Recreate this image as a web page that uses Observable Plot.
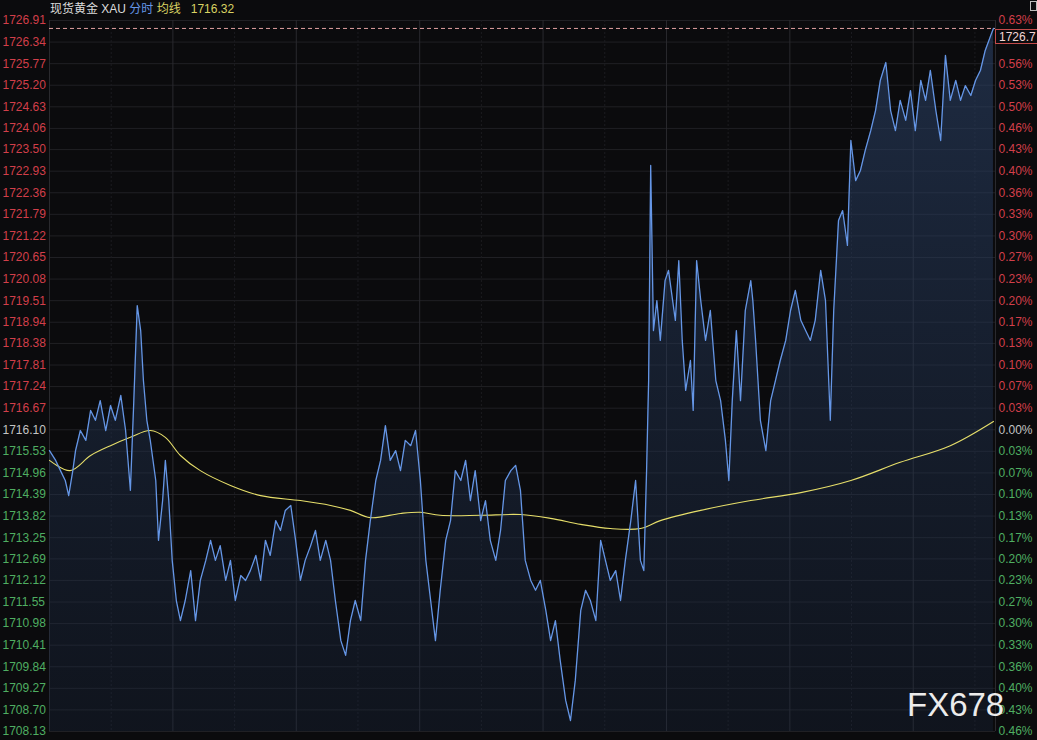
<!DOCTYPE html>
<html><head><meta charset="utf-8">
<script src="https://cdn.jsdelivr.net/npm/d3@7"></script>
<script src="https://cdn.jsdelivr.net/npm/@observablehq/plot@0.6"></script>
<style>
html,body{margin:0;padding:0;background:#0b0b0d;}
#wrap{position:relative;width:1037px;height:740px;overflow:hidden;font-family:"Liberation Sans",Arial,"Noto Sans CJK SC",sans-serif;}
#hdr{position:absolute;left:50px;top:2px;font-size:12px;line-height:14px;white-space:nowrap;}
#box{position:absolute;left:995px;width:44px;height:15px;border:1px solid #c24a4a;background:#0b0b0d;color:#f2d6d6;font-size:12px;line-height:15px;padding-left:3px;box-sizing:border-box;}
#icon{position:absolute;left:1030px;top:1px;width:7px;height:10px;border:1px solid #bbb;box-sizing:border-box;}
#wm{position:absolute;left:907px;top:686px;font-size:33px;color:#ececec;font-family:"Liberation Sans",Arial,sans-serif;}
</style></head>
<body><div id="wrap"></div>
<script>
// ---- data ----
const minutes = [0,9,16,23,28,34,38,45,53,60,67,74,82,89,96,104,111,118,123,128,133,137,142,147,155,159,165,169,174,179,185,191,198,206,213,220,228,235,242,249,257,264,271,279,286,293,301,308,315,322,330,337,344,352,359,366,373,381,388,395,403,410,417,425,432,439,446,454,461,468,476,483,490,497,505,512,519,527,534,541,549,556,563,570,578,585,592,600,607,614,621,629,636,643,651,658,665,673,680,687,694,702,709,716,724,731,738,745,753,760,767,775,782,789,797,804,811,818,826,833,840,848,855,862,867,871,874,877,881,886,891,898,903,909,913,918,923,928,935,939,944,950,957,964,972,979,986,991,996,1002,1008,1015,1023,1026,1030,1037,1045,1052,1059,1066,1074,1081,1088,1096,1103,1110,1117,1125,1132,1139,1144,1151,1157,1164,1169,1176,1183,1190,1198,1205,1212,1220,1227,1234,1241,1249,1256,1263,1271,1278,1285,1293,1300,1307,1314,1322,1329,1336,1344,1351,1358,1365,1373,1377];
const prices = [1715.55,1715.29,1715.02,1714.76,1714.36,1715.02,1715.55,1716.08,1715.82,1716.61,1716.35,1716.87,1716.08,1716.74,1716.35,1717.01,1716.08,1714.50,1716.87,1719.38,1718.72,1717.40,1716.35,1715.82,1714.76,1713.18,1714.23,1715.29,1714.23,1712.65,1711.59,1711.06,1711.59,1712.38,1711.06,1712.12,1712.65,1713.18,1712.65,1713.04,1712.12,1712.65,1711.59,1712.25,1712.12,1712.38,1712.78,1712.12,1713.18,1712.78,1713.70,1713.44,1713.97,1714.10,1713.18,1712.12,1712.65,1713.04,1713.44,1712.65,1713.18,1712.65,1711.59,1710.53,1710.14,1711.06,1711.59,1711.06,1712.65,1713.70,1714.76,1715.29,1716.21,1715.29,1715.55,1715.02,1715.82,1715.68,1716.08,1714.76,1712.65,1711.59,1710.53,1711.86,1713.18,1713.70,1715.02,1714.76,1715.29,1714.23,1715.02,1713.70,1714.23,1713.18,1712.65,1713.44,1714.76,1715.02,1715.16,1714.50,1712.65,1712.12,1711.86,1712.12,1711.33,1710.53,1711.06,1710.01,1708.95,1708.42,1709.48,1711.33,1711.86,1711.59,1711.06,1713.18,1712.65,1712.12,1712.38,1711.59,1712.65,1713.70,1714.76,1712.65,1712.38,1715.02,1717.40,1723.08,1718.72,1719.51,1718.46,1720.04,1720.31,1719.51,1718.99,1720.57,1718.46,1717.14,1717.93,1716.61,1720.57,1719.51,1718.46,1719.25,1717.40,1716.87,1715.82,1714.76,1716.87,1718.72,1716.87,1719.25,1720.04,1719.51,1718.46,1716.35,1715.55,1716.87,1717.40,1717.93,1718.46,1719.25,1719.78,1718.99,1718.72,1718.46,1718.99,1720.31,1719.51,1716.35,1719.25,1721.63,1721.89,1720.97,1723.74,1722.68,1722.95,1723.48,1724.00,1724.53,1725.33,1725.80,1724.53,1724.00,1724.80,1724.27,1725.06,1724.00,1725.33,1724.80,1725.59,1724.53,1723.74,1725.99,1724.80,1725.33,1724.80,1725.19,1724.93,1725.33,1725.59,1726.12,1726.51,1726.70];
const avgMinutes = [0,30,60,89,118,147,169,191,220,264,308,366,410,439,468,512,541,570,629,687,731,775,818,862,891,950,1023,1096,1169,1241,1314,1377];
const avgPrices = [1715.29,1715.02,1715.42,1715.68,1715.90,1716.08,1715.90,1715.42,1715.02,1714.63,1714.36,1714.23,1714.10,1713.97,1713.78,1713.89,1713.92,1713.84,1713.84,1713.86,1713.76,1713.60,1713.49,1713.49,1713.70,1713.97,1714.23,1714.44,1714.76,1715.24,1715.68,1716.32];
const leftTicks = [1726.91,1726.34,1725.77,1725.20,1724.63,1724.06,1723.50,1722.93,1722.36,1721.79,1721.22,1720.65,1720.08,1719.51,1718.94,1718.38,1717.81,1717.24,1716.67,1716.10,1715.53,1714.96,1714.39,1713.82,1713.25,1712.69,1712.12,1711.55,1710.98,1710.41,1709.84,1709.27,1708.70,1708.13];
const rightLabels = ["0.63%","0.60%","0.56%","0.53%","0.50%","0.46%","0.43%","0.40%","0.36%","0.33%","0.30%","0.27%","0.23%","0.20%","0.17%","0.13%","0.10%","0.07%","0.03%","0.00%","0.03%","0.07%","0.10%","0.13%","0.17%","0.20%","0.23%","0.27%","0.30%","0.33%","0.36%","0.40%","0.43%","0.46%"];
const prevClose = 1716.10;
const majorGrid = [180,360,540,720,900,1080,1260];
const minorGrid = [90,270,450,630,810,990,1170,1350];
const edgeGrid = [0,1380];
const title = "现货黄金 XAU";

// ---- build ----
const series = minutes.map((t,i)=>({t, p:prices[i]}));
const avg = avgMinutes.map((t,i)=>({t, p:avgPrices[i]}));
const last = prices[prices.length-1];
const yDomain = [leftTicks[leftTicks.length-1], leftTicks[0]];
const RED="#d23f4a", GREEN="#4fae62", GRAY="#c4c4c4";
const tickColor = v => v > prevClose + 1e-6 ? RED : (Math.abs(v-prevClose)<1e-6 ? GRAY : GREEN);
const ticksData = leftTicks.map((v,i)=>({v, lab: v.toFixed(2), pct: rightLabels[i], c: tickColor(v)}));
// the current-price box on the right covers the percentage label just beneath it
const rightData = ticksData.filter(d => !(d.v < last && last - d.v < 0.5));

const defs = () => {
  const s = d3.create("svg:g");
  const g = s.append("defs").append("linearGradient").attr("id","fillg").attr("x1",0).attr("x2",0).attr("y1",0).attr("y2",1);
  g.append("stop").attr("offset","0%").attr("stop-color","#2b4166").attr("stop-opacity",0.6);
  g.append("stop").attr("offset","100%").attr("stop-color","#1b2a44").attr("stop-opacity",0.3);
  return s.node();
};

const plot = Plot.plot({
  width:1037, height:740,
  marginLeft:49, marginRight:42, marginTop:20, marginBottom:9,
  style:{background:"transparent", fontFamily:'"Liberation Sans",Arial,sans-serif', fontSize:"12px", overflow:"visible"},
  x:{domain:[0,1380], axis:null},
  y:{domain:yDomain, axis:null},
  color:{type:"identity"},
  marks:[
    defs,
    Plot.ruleY(leftTicks,{stroke:"#202024", strokeWidth:1}),
    Plot.ruleX(minorGrid,{stroke:"#1c1c20", strokeDasharray:"2,2"}),
    Plot.ruleX(majorGrid,{stroke:"#2a2a2e"}),
    Plot.ruleX(edgeGrid,{stroke:"#2a2a2e"}),
    Plot.areaY(series,{x:"t", y1:yDomain[0], y2:"p", fill:"url(#fillg)"}),
    Plot.lineY(avg,{x:"t", y:"p", stroke:"#e6de6a", strokeWidth:1.1, curve:"catmull-rom"}),
    Plot.lineY(series,{x:"t", y:"p", stroke:"#6596e6", strokeWidth:1.3}),
    Plot.ruleY([last],{stroke:"#e0a0a0", strokeDasharray:"4,3", strokeWidth:1}),
    Plot.text(ticksData,{y:"v", text:"lab", fill:"c", frameAnchor:"left", dx:-47, textAnchor:"start", fontSize:12}),
    Plot.text(rightData,{y:"v", text:"pct", fill:"c", frameAnchor:"right", dx:3, textAnchor:"start", fontSize:12})
  ]
});
const wrap = document.getElementById("wrap");
wrap.appendChild(plot);

const hdr = document.createElement("div");
hdr.id="hdr";
hdr.innerHTML = `<span style="color:#dcdcdc">${title}</span> <span style="color:#6596e6">分时</span> <span style="color:#d9d263">均线</span>&nbsp;&nbsp;&nbsp;<span style="color:#d9d263">${avgPrices[avgPrices.length-1].toFixed(2)}</span>`;
wrap.appendChild(hdr);

const yPix = plot.scale("y").apply(last);
const box = document.createElement("div");
box.id="box"; box.textContent = last.toFixed(1);
box.style.top = (yPix + 1) + "px";
wrap.appendChild(box);

const icon = document.createElement("div"); icon.id="icon"; wrap.appendChild(icon);
const wm = document.createElement("div"); wm.id="wm"; wm.textContent="FX678"; wrap.appendChild(wm);
</script></body></html>
